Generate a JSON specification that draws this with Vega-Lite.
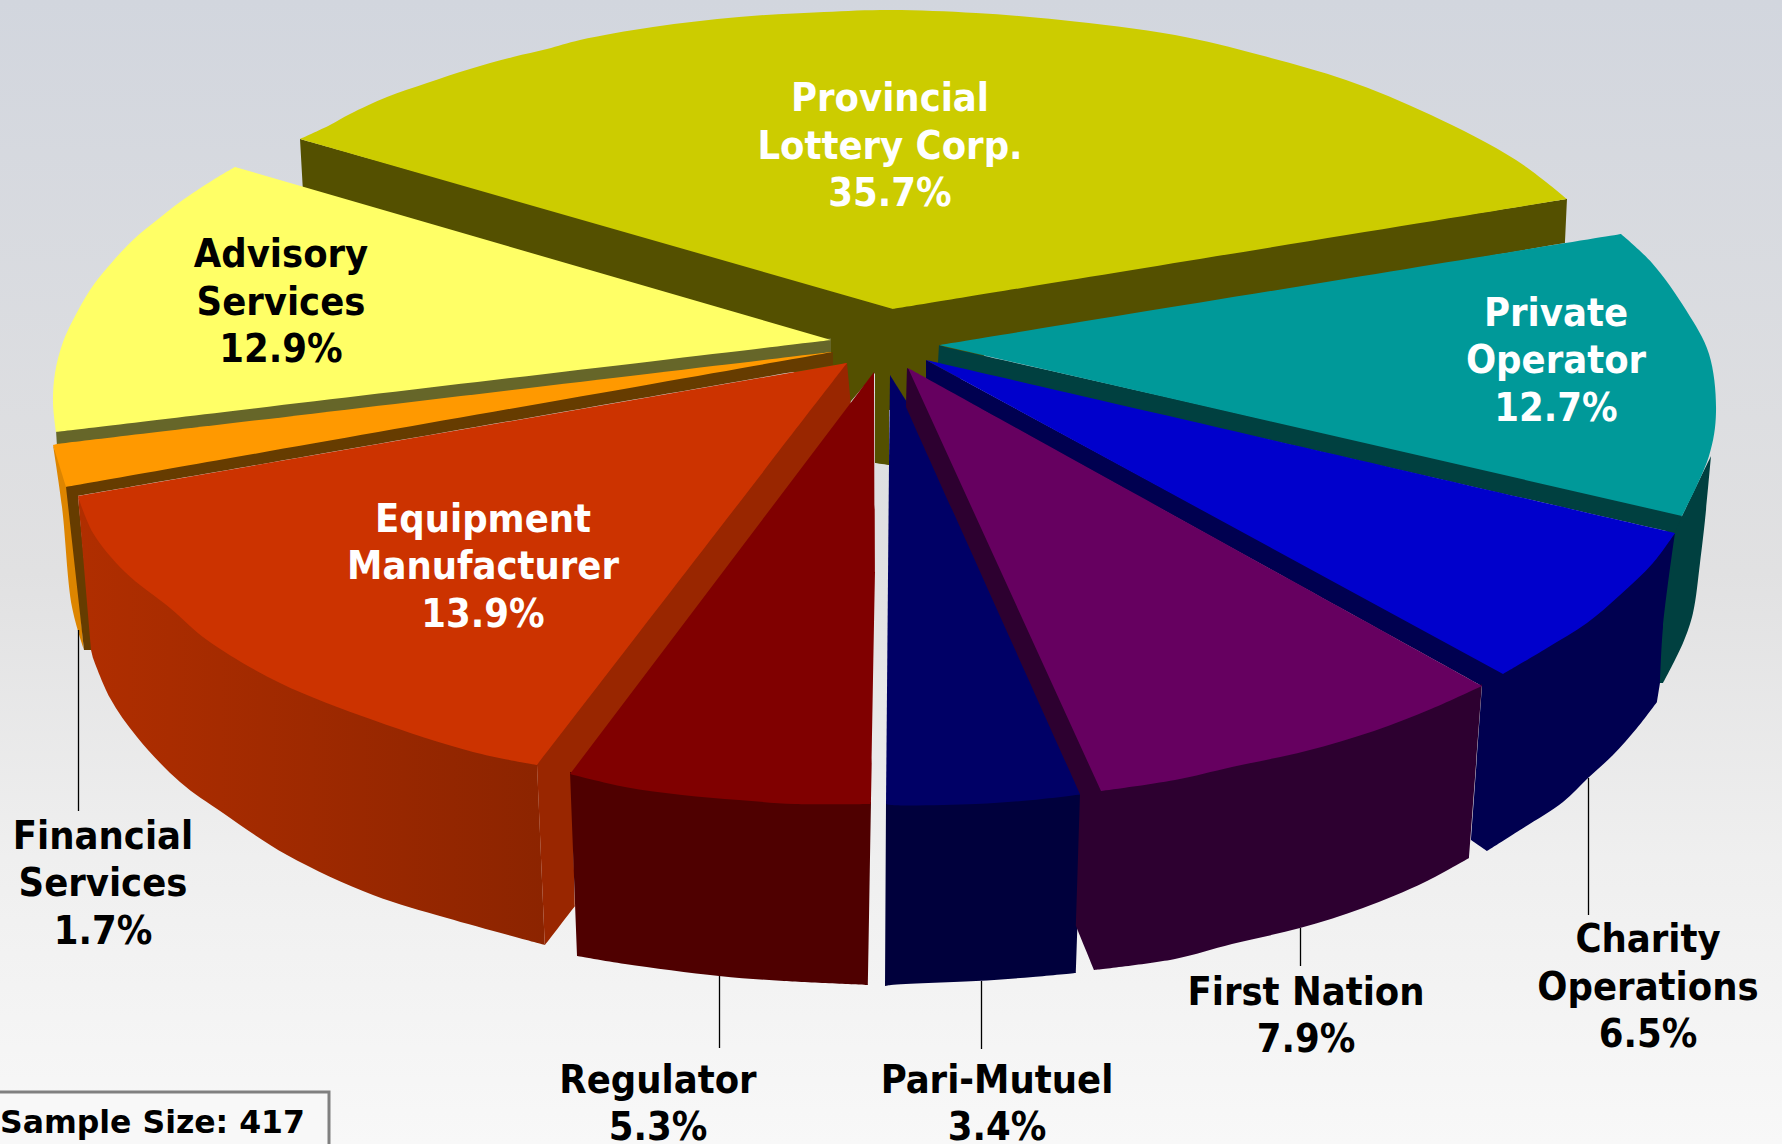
{"$schema":"https://vega.github.io/schema/vega-lite/v6.json","width":1782,"height":1144,"padding":0,"autosize":{"type":"none"},"background":"#f8f8f8","view":{"stroke":null},
"datasets":{
"back":[
{"face":"Provincial side","i":1,"x":300,"y":139},{"face":"Provincial side","i":1.5,"x":300,"y":139},{"face":"Provincial side","i":2,"x":893,"y":305},{"face":"Provincial side","i":2.5,"x":893,"y":305},{"face":"Provincial side","i":3,"x":1567,"y":199},{"face":"Provincial side","i":3.5,"x":1567,"y":199},{"face":"Provincial side","i":4,"x":1565,"y":243},{"face":"Provincial side","i":4.5,"x":1565,"y":243},{"face":"Provincial side","i":5,"x":1000,"y":340},{"face":"Provincial side","i":5.5,"x":1000,"y":340},{"face":"Provincial side","i":6,"x":939,"y":400},{"face":"Provincial side","i":6.5,"x":939,"y":400},{"face":"Provincial side","i":7,"x":906,"y":410},{"face":"Provincial side","i":7.5,"x":906,"y":410},{"face":"Provincial side","i":8,"x":889,"y":410},{"face":"Provincial side","i":8.5,"x":889,"y":410},{"face":"Provincial side","i":9,"x":889,"y":465},{"face":"Provincial side","i":9.5,"x":889,"y":465},{"face":"Provincial side","i":10,"x":875,"y":463},{"face":"Provincial side","i":10.5,"x":875,"y":463},{"face":"Provincial side","i":11,"x":875,"y":373},{"face":"Provincial side","i":11.5,"x":875,"y":373},{"face":"Provincial side","i":12,"x":847,"y":406},{"face":"Provincial side","i":12.5,"x":847,"y":406},{"face":"Provincial side","i":13,"x":700,"y":312},{"face":"Provincial side","i":13.5,"x":700,"y":312},{"face":"Provincial side","i":14,"x":303,"y":192},{"face":"Provincial side","i":14.5,"x":303,"y":192},
{"face":"Provincial top","i":1,"x":300,"y":139},{"face":"Provincial top","i":1.5,"x":300,"y":139},{"face":"Provincial top","i":2,"x":330,"y":125},{"face":"Provincial top","i":3,"x":350,"y":114},{"face":"Provincial top","i":4,"x":387,"y":97},{"face":"Provincial top","i":5,"x":427,"y":83},{"face":"Provincial top","i":6,"x":470,"y":69},{"face":"Provincial top","i":7,"x":513,"y":57},{"face":"Provincial top","i":8,"x":547,"y":49},{"face":"Provincial top","i":8.5,"x":580,"y":40},{"face":"Provincial top","i":9,"x":653,"y":27},{"face":"Provincial top","i":10,"x":739,"y":17},{"face":"Provincial top","i":11,"x":824,"y":12},{"face":"Provincial top","i":12,"x":891,"y":10},{"face":"Provincial top","i":13,"x":976,"y":13},{"face":"Provincial top","i":14,"x":1061,"y":20},{"face":"Provincial top","i":15,"x":1175,"y":35},{"face":"Provincial top","i":16,"x":1260,"y":55},{"face":"Provincial top","i":17,"x":1346,"y":80},{"face":"Provincial top","i":18,"x":1431,"y":115},{"face":"Provincial top","i":19,"x":1516,"y":160},{"face":"Provincial top","i":20,"x":1567,"y":199},{"face":"Provincial top","i":20.5,"x":1567,"y":199},{"face":"Provincial top","i":21,"x":893,"y":309},{"face":"Provincial top","i":21.5,"x":893,"y":309},
{"face":"Advisory side","i":1,"x":56,"y":430},{"face":"Advisory side","i":1.5,"x":56,"y":430},{"face":"Advisory side","i":2,"x":831,"y":338},{"face":"Advisory side","i":2.5,"x":831,"y":338},{"face":"Advisory side","i":3,"x":831,"y":355},{"face":"Advisory side","i":3.5,"x":831,"y":355},{"face":"Advisory side","i":4,"x":57,"y":447},{"face":"Advisory side","i":4.5,"x":57,"y":447},
{"face":"Advisory top","i":1,"x":235,"y":167},{"face":"Advisory top","i":1.5,"x":235,"y":167},{"face":"Advisory top","i":2,"x":213,"y":180},{"face":"Advisory top","i":3,"x":180,"y":202},{"face":"Advisory top","i":4,"x":157,"y":220},{"face":"Advisory top","i":5,"x":133,"y":240},{"face":"Advisory top","i":6,"x":107,"y":268},{"face":"Advisory top","i":7,"x":90,"y":290},{"face":"Advisory top","i":8,"x":73,"y":320},{"face":"Advisory top","i":9,"x":63,"y":342},{"face":"Advisory top","i":10,"x":55,"y":373},{"face":"Advisory top","i":11,"x":53,"y":403},{"face":"Advisory top","i":12,"x":56,"y":432},{"face":"Advisory top","i":12.5,"x":56,"y":432},{"face":"Advisory top","i":13,"x":831,"y":340},{"face":"Advisory top","i":13.5,"x":831,"y":340},
{"face":"Financial outer","i":1,"x":53,"y":445},{"face":"Financial outer","i":1.5,"x":53,"y":445},{"face":"Financial outer","i":2,"x":70,"y":487},{"face":"Financial outer","i":2.5,"x":70,"y":487},{"face":"Financial outer","i":3,"x":84,"y":650},{"face":"Financial outer","i":3.5,"x":84,"y":650},{"face":"Financial outer","i":4,"x":72,"y":607},{"face":"Financial outer","i":5,"x":62,"y":507},{"face":"Financial outer","i":6,"x":53,"y":445},{"face":"Financial outer","i":6.5,"x":53,"y":445},
{"face":"Financial top","i":1,"x":53,"y":445},{"face":"Financial top","i":1.5,"x":53,"y":445},{"face":"Financial top","i":2,"x":57,"y":444},{"face":"Financial top","i":2.5,"x":57,"y":444},{"face":"Financial top","i":3,"x":831,"y":352},{"face":"Financial top","i":3.5,"x":831,"y":352},{"face":"Financial top","i":4,"x":833,"y":356},{"face":"Financial top","i":4.5,"x":833,"y":356},{"face":"Financial top","i":5,"x":70,"y":490},{"face":"Financial top","i":5.5,"x":70,"y":490},{"face":"Financial top","i":6,"x":66,"y":487},{"face":"Financial top","i":6.5,"x":66,"y":487},
{"face":"Financial cut","i":1,"x":66,"y":487},{"face":"Financial cut","i":1.5,"x":66,"y":487},{"face":"Financial cut","i":2,"x":833,"y":352},{"face":"Financial cut","i":2.5,"x":833,"y":352},{"face":"Financial cut","i":3,"x":833,"y":365},{"face":"Financial cut","i":3.5,"x":833,"y":365},{"face":"Financial cut","i":4,"x":78,"y":496},{"face":"Financial cut","i":4.5,"x":78,"y":496},{"face":"Financial cut","i":5,"x":93,"y":650},{"face":"Financial cut","i":5.5,"x":93,"y":650},{"face":"Financial cut","i":6,"x":84,"y":650},{"face":"Financial cut","i":6.5,"x":84,"y":650}
],
"equipmentOuter":[
{"i":1,"x":78,"y":496},{"i":1.5,"x":78,"y":496},{"i":2,"x":96,"y":530},{"i":3,"x":128,"y":569},{"i":4,"x":173,"y":605},{"i":5,"x":210,"y":637},{"i":6,"x":283,"y":680},{"i":7,"x":375,"y":717},{"i":8,"x":474,"y":749},{"i":9,"x":537,"y":763},{"i":9.5,"x":537,"y":763},{"i":10,"x":545,"y":945},{"i":10.5,"x":545,"y":945},{"i":11,"x":447,"y":918},{"i":12,"x":373,"y":895},{"i":13,"x":287,"y":855},{"i":14,"x":223,"y":813},{"i":15,"x":180,"y":782},{"i":16,"x":137,"y":737},{"i":17,"x":110,"y":698},{"i":18,"x":93,"y":658},{"i":18.5,"x":93,"y":658},{"i":19,"x":91,"y":650},{"i":19.5,"x":91,"y":650}
],
"front":[
{"face":"Equipment cut","i":1,"x":844,"y":363},{"face":"Equipment cut","i":1.5,"x":844,"y":363},{"face":"Equipment cut","i":2,"x":534,"y":765},{"face":"Equipment cut","i":2.5,"x":534,"y":765},{"face":"Equipment cut","i":2.7,"x":537,"y":765},{"face":"Equipment cut","i":2.8,"x":537,"y":765},{"face":"Equipment cut","i":3,"x":545,"y":945},{"face":"Equipment cut","i":3.5,"x":545,"y":945},{"face":"Equipment cut","i":4,"x":575,"y":906},{"face":"Equipment cut","i":4.5,"x":575,"y":906},{"face":"Equipment cut","i":5,"x":572,"y":775},{"face":"Equipment cut","i":5.5,"x":572,"y":775},{"face":"Equipment cut","i":6,"x":851,"y":405},{"face":"Equipment cut","i":6.5,"x":851,"y":405},{"face":"Equipment cut","i":7,"x":847,"y":363},{"face":"Equipment cut","i":7.5,"x":847,"y":363},
{"face":"Equipment top","i":1,"x":78,"y":496},{"face":"Equipment top","i":1.5,"x":78,"y":496},{"face":"Equipment top","i":2,"x":93,"y":533},{"face":"Equipment top","i":3,"x":125,"y":572},{"face":"Equipment top","i":4,"x":170,"y":608},{"face":"Equipment top","i":5,"x":207,"y":640},{"face":"Equipment top","i":6,"x":280,"y":683},{"face":"Equipment top","i":7,"x":373,"y":720},{"face":"Equipment top","i":8,"x":473,"y":752},{"face":"Equipment top","i":9,"x":537,"y":765},{"face":"Equipment top","i":9.5,"x":537,"y":765},{"face":"Equipment top","i":10,"x":847,"y":363},{"face":"Equipment top","i":10.5,"x":847,"y":363},
{"face":"Regulator side","i":1,"x":570,"y":772},{"face":"Regulator side","i":1.5,"x":570,"y":772},{"face":"Regulator side","i":2,"x":625,"y":785},{"face":"Regulator side","i":3,"x":682,"y":793},{"face":"Regulator side","i":4,"x":739,"y":798},{"face":"Regulator side","i":5,"x":795,"y":802},{"face":"Regulator side","i":6,"x":871,"y":802},{"face":"Regulator side","i":6.5,"x":871,"y":802},{"face":"Regulator side","i":7,"x":868,"y":985},{"face":"Regulator side","i":7.5,"x":868,"y":985},{"face":"Regulator side","i":8,"x":784,"y":981},{"face":"Regulator side","i":9,"x":719,"y":976},{"face":"Regulator side","i":10,"x":625,"y":964},{"face":"Regulator side","i":11,"x":577,"y":956},{"face":"Regulator side","i":11.5,"x":577,"y":956},
{"face":"Regulator top","i":1,"x":874,"y":372},{"face":"Regulator top","i":1.5,"x":874,"y":372},{"face":"Regulator top","i":2,"x":875,"y":572},{"face":"Regulator top","i":2.5,"x":875,"y":572},{"face":"Regulator top","i":3,"x":871,"y":804},{"face":"Regulator top","i":3.5,"x":871,"y":804},{"face":"Regulator top","i":4,"x":795,"y":804},{"face":"Regulator top","i":5,"x":739,"y":800},{"face":"Regulator top","i":6,"x":682,"y":795},{"face":"Regulator top","i":7,"x":625,"y":787},{"face":"Regulator top","i":8,"x":570,"y":774},{"face":"Regulator top","i":8.5,"x":570,"y":774},
{"face":"Private outer","i":1,"x":1682,"y":516},{"face":"Private outer","i":1.5,"x":1682,"y":516},{"face":"Private outer","i":2,"x":1711,"y":456},{"face":"Private outer","i":2.5,"x":1711,"y":456},{"face":"Private outer","i":3,"x":1705,"y":520},{"face":"Private outer","i":4,"x":1700,"y":563},{"face":"Private outer","i":5,"x":1693,"y":613},{"face":"Private outer","i":6,"x":1683,"y":643},{"face":"Private outer","i":7,"x":1663,"y":683},{"face":"Private outer","i":7.5,"x":1663,"y":683},{"face":"Private outer","i":8,"x":1655,"y":683},{"face":"Private outer","i":8.5,"x":1655,"y":683},{"face":"Private outer","i":9,"x":1665,"y":533},{"face":"Private outer","i":9.5,"x":1665,"y":533},
{"face":"Private cut","i":1,"x":945,"y":347},{"face":"Private cut","i":1.5,"x":945,"y":347},{"face":"Private cut","i":2,"x":1680,"y":513},{"face":"Private cut","i":2.5,"x":1680,"y":513},{"face":"Private cut","i":3,"x":1682,"y":516},{"face":"Private cut","i":3.5,"x":1682,"y":516},{"face":"Private cut","i":4,"x":1675,"y":533},{"face":"Private cut","i":4.5,"x":1675,"y":533},{"face":"Private cut","i":5,"x":938,"y":364},{"face":"Private cut","i":5.5,"x":938,"y":364},{"face":"Private cut","i":6,"x":939,"y":345},{"face":"Private cut","i":6.5,"x":939,"y":345},
{"face":"Private top","i":1,"x":939,"y":345},{"face":"Private top","i":1.5,"x":939,"y":345},{"face":"Private top","i":2,"x":1621,"y":234},{"face":"Private top","i":2.5,"x":1621,"y":234},{"face":"Private top","i":3,"x":1652,"y":263},{"face":"Private top","i":4,"x":1686,"y":310},{"face":"Private top","i":5,"x":1709,"y":354},{"face":"Private top","i":6,"x":1716,"y":412},{"face":"Private top","i":7,"x":1709,"y":456},{"face":"Private top","i":8,"x":1682,"y":516},{"face":"Private top","i":8.5,"x":1682,"y":516},
{"face":"Charity side","i":1,"x":1503,"y":672},{"face":"Charity side","i":1.5,"x":1503,"y":672},{"face":"Charity side","i":2,"x":1547,"y":646},{"face":"Charity side","i":3,"x":1587,"y":621},{"face":"Charity side","i":4,"x":1620,"y":593},{"face":"Charity side","i":5,"x":1653,"y":561},{"face":"Charity side","i":6,"x":1675,"y":533},{"face":"Charity side","i":6.5,"x":1675,"y":533},{"face":"Charity side","i":7,"x":1663,"y":627},{"face":"Charity side","i":8,"x":1660,"y":683},{"face":"Charity side","i":8.5,"x":1660,"y":683},{"face":"Charity side","i":9,"x":1657,"y":702},{"face":"Charity side","i":9.5,"x":1657,"y":702},{"face":"Charity side","i":10,"x":1637,"y":728},{"face":"Charity side","i":11,"x":1613,"y":755},{"face":"Charity side","i":12,"x":1588,"y":778},{"face":"Charity side","i":13,"x":1563,"y":802},{"face":"Charity side","i":14,"x":1520,"y":830},{"face":"Charity side","i":15,"x":1487,"y":851},{"face":"Charity side","i":15.5,"x":1487,"y":851},{"face":"Charity side","i":16,"x":1471,"y":840},{"face":"Charity side","i":16.5,"x":1471,"y":840},{"face":"Charity side","i":17,"x":1482,"y":686},{"face":"Charity side","i":17.5,"x":1482,"y":686},{"face":"Charity side","i":18,"x":926,"y":379},{"face":"Charity side","i":18.5,"x":926,"y":379},{"face":"Charity side","i":19,"x":926,"y":360},{"face":"Charity side","i":19.5,"x":926,"y":360},
{"face":"Charity top","i":1,"x":926,"y":360},{"face":"Charity top","i":1.5,"x":926,"y":360},{"face":"Charity top","i":2,"x":1675,"y":533},{"face":"Charity top","i":2.5,"x":1675,"y":533},{"face":"Charity top","i":3,"x":1653,"y":563},{"face":"Charity top","i":4,"x":1620,"y":595},{"face":"Charity top","i":5,"x":1587,"y":623},{"face":"Charity top","i":6,"x":1547,"y":648},{"face":"Charity top","i":7,"x":1503,"y":674},{"face":"Charity top","i":7.5,"x":1503,"y":674},
{"face":"Pari side","i":1,"x":886,"y":802},{"face":"Pari side","i":1.5,"x":886,"y":802},{"face":"Pari side","i":2,"x":976,"y":802},{"face":"Pari side","i":3,"x":1033,"y":798},{"face":"Pari side","i":4,"x":1082,"y":792},{"face":"Pari side","i":4.5,"x":1082,"y":792},{"face":"Pari side","i":5,"x":1076,"y":973},{"face":"Pari side","i":5.5,"x":1076,"y":973},{"face":"Pari side","i":6,"x":1033,"y":977},{"face":"Pari side","i":7,"x":976,"y":981},{"face":"Pari side","i":8,"x":891,"y":985},{"face":"Pari side","i":9,"x":885,"y":986},{"face":"Pari side","i":9.5,"x":885,"y":986},
{"face":"Pari top","i":1,"x":890,"y":375},{"face":"Pari top","i":1.5,"x":890,"y":375},{"face":"Pari top","i":2,"x":910,"y":407},{"face":"Pari top","i":2.5,"x":910,"y":407},{"face":"Pari top","i":3,"x":1084,"y":794},{"face":"Pari top","i":3.5,"x":1084,"y":794},{"face":"Pari top","i":4,"x":1033,"y":800},{"face":"Pari top","i":5,"x":976,"y":804},{"face":"Pari top","i":6,"x":891,"y":805},{"face":"Pari top","i":7,"x":886,"y":804},{"face":"Pari top","i":7.5,"x":886,"y":804},{"face":"Pari top","i":8,"x":889,"y":463},{"face":"Pari top","i":8.5,"x":889,"y":463},
{"face":"First Nation side","i":1,"x":912,"y":371},{"face":"First Nation side","i":1.5,"x":912,"y":371},{"face":"First Nation side","i":2,"x":1106,"y":788},{"face":"First Nation side","i":2.5,"x":1106,"y":788},{"face":"First Nation side","i":3,"x":1175,"y":778},{"face":"First Nation side","i":4,"x":1232,"y":765},{"face":"First Nation side","i":5,"x":1306,"y":749},{"face":"First Nation side","i":6,"x":1374,"y":729},{"face":"First Nation side","i":7,"x":1431,"y":707},{"face":"First Nation side","i":8,"x":1482,"y":684},{"face":"First Nation side","i":8.5,"x":1482,"y":684},{"face":"First Nation side","i":9,"x":1469,"y":858},{"face":"First Nation side","i":9.5,"x":1469,"y":858},{"face":"First Nation side","i":10,"x":1425,"y":882},{"face":"First Nation side","i":11,"x":1363,"y":908},{"face":"First Nation side","i":12,"x":1300,"y":928},{"face":"First Nation side","i":13,"x":1232,"y":944},{"face":"First Nation side","i":14,"x":1175,"y":959},{"face":"First Nation side","i":15,"x":1094,"y":970},{"face":"First Nation side","i":15.5,"x":1094,"y":970},{"face":"First Nation side","i":16,"x":1076,"y":926},{"face":"First Nation side","i":16.5,"x":1076,"y":926},{"face":"First Nation side","i":17,"x":1080,"y":794},{"face":"First Nation side","i":17.5,"x":1080,"y":794},{"face":"First Nation side","i":18,"x":906,"y":407},{"face":"First Nation side","i":18.5,"x":906,"y":407},{"face":"First Nation side","i":19,"x":907,"y":368},{"face":"First Nation side","i":19.5,"x":907,"y":368},
{"face":"First Nation top","i":1,"x":908,"y":368},{"face":"First Nation top","i":1.5,"x":908,"y":368},{"face":"First Nation top","i":2,"x":1482,"y":686},{"face":"First Nation top","i":2.5,"x":1482,"y":686},{"face":"First Nation top","i":3,"x":1431,"y":709},{"face":"First Nation top","i":4,"x":1374,"y":731},{"face":"First Nation top","i":5,"x":1306,"y":751},{"face":"First Nation top","i":6,"x":1232,"y":767},{"face":"First Nation top","i":7,"x":1175,"y":780},{"face":"First Nation top","i":8,"x":1101,"y":791},{"face":"First Nation top","i":8.5,"x":1101,"y":791}
],
"leaders":[
{"slice":"Financial Services","x":78.5,"y":630,"y2":811},{"slice":"Regulator","x":719.5,"y":976,"y2":1048},{"slice":"Pari-Mutuel","x":981.5,"y":981,"y2":1049},{"slice":"First Nation","x":1300.5,"y":928,"y2":966},{"slice":"Charity Operations","x":1588.5,"y":778,"y2":915}
],
"labels":[
{"label":"Provincial\nLottery Corp.\n35.7%","share":35.7,"x":890,"y":99,"tone":"light"},
{"label":"Advisory\nServices\n12.9%","share":12.9,"x":281,"y":255,"tone":"dark"},
{"label":"Private\nOperator\n12.7%","share":12.7,"x":1556,"y":313.5,"tone":"light"},
{"label":"Equipment\nManufacturer\n13.9%","share":13.9,"x":483,"y":519.5,"tone":"light"},
{"label":"Financial\nServices\n1.7%","share":1.7,"x":103,"y":836.5,"tone":"dark"},
{"label":"Regulator\n5.3%","share":5.3,"x":658,"y":1080.5,"tone":"dark"},
{"label":"Pari-Mutuel\n3.4%","share":3.4,"x":997,"y":1080.5,"tone":"dark"},
{"label":"First Nation\n7.9%","share":7.9,"x":1306,"y":992.5,"tone":"dark"},
{"label":"Charity\nOperations\n6.5%","share":6.5,"x":1648,"y":940,"tone":"dark"}
],
"note":[{"label":"Sample Size: 417","x":0,"y":1124,"x1":-10,"x2":329,"y1":1092,"y2":1160}]
},
"layer":[
{"data":{"values":[{"from":0,"to":1782,"top":0,"bottom":1144}]},"mark":{"type":"rect","fill":{"x1":0,"y1":0,"x2":0,"y2":1,"gradient":"linear","stops":[{"offset":0,"color":"#d2d6de"},{"offset":0.5,"color":"#e1e1e2"},{"offset":0.75,"color":"#efefef"},{"offset":1,"color":"#f8f8f8"}]}},
"encoding":{"x":{"field":"from","type":"quantitative","scale":{"domain":[0,1782]},"axis":null},"x2":{"field":"to"},"y":{"field":"top","type":"quantitative","scale":{"domain":[1144,0]},"axis":null},"y2":{"field":"bottom"}}},
{"data":{"name":"back"},"mark":{"type":"line","strokeWidth":0,"interpolate":"catmull-rom"},
"encoding":{"x":{"field":"x","type":"quantitative","scale":{"domain":[0,1782]},"axis":null},"y":{"field":"y","type":"quantitative","scale":{"domain":[1144,0]},"axis":null},"order":{"field":"i","type":"quantitative"},
"fill":{"field":"face","type":"nominal","legend":null,"scale":{"domain":["Provincial side","Provincial top","Advisory side","Advisory top","Financial outer","Financial top","Financial cut","Equipment top","Equipment cut","Regulator side","Regulator top","Private outer","Private cut","Private top","Charity side","Charity top","Pari side","Pari top","First Nation side","First Nation top"],"range":["#545000","#cccc00","#666629","#ffff66","#dd8500","#ff9900","#663c00","#cc3300","#992600","#4f0000","#800000","#004040","#004040","#009999","#000050","#0000cc","#00003c","#000066","#2d0030","#660060"]}}}},
{"data":{"name":"equipmentOuter"},"mark":{"type":"line","strokeWidth":0,"interpolate":"catmull-rom","fill":{"x1":0,"y1":0,"x2":1,"y2":0,"gradient":"linear","stops":[{"offset":0,"color":"#b02e00"},{"offset":1,"color":"#8c2400"}]}},
"encoding":{"x":{"field":"x","type":"quantitative","scale":{"domain":[0,1782]},"axis":null},"y":{"field":"y","type":"quantitative","scale":{"domain":[1144,0]},"axis":null},"order":{"field":"i","type":"quantitative"}}},
{"data":{"name":"front"},"mark":{"type":"line","strokeWidth":0,"interpolate":"catmull-rom"},
"encoding":{"x":{"field":"x","type":"quantitative","scale":{"domain":[0,1782]},"axis":null},"y":{"field":"y","type":"quantitative","scale":{"domain":[1144,0]},"axis":null},"order":{"field":"i","type":"quantitative"},
"fill":{"field":"face","type":"nominal","legend":null,"scale":{"domain":["Provincial side","Provincial top","Advisory side","Advisory top","Financial outer","Financial top","Financial cut","Equipment top","Equipment cut","Regulator side","Regulator top","Private outer","Private cut","Private top","Charity side","Charity top","Pari side","Pari top","First Nation side","First Nation top"],"range":["#545000","#cccc00","#666629","#ffff66","#dd8500","#ff9900","#663c00","#cc3300","#992600","#4f0000","#800000","#004040","#004040","#009999","#000050","#0000cc","#00003c","#000066","#2d0030","#660060"]}}}},
{"data":{"name":"leaders"},"mark":{"type":"rule","color":"#000000","strokeWidth":1.3},
"encoding":{"x":{"field":"x","type":"quantitative","scale":{"domain":[0,1782]},"axis":null},"y":{"field":"y","type":"quantitative","scale":{"domain":[1144,0]},"axis":null},"y2":{"field":"y2"}}},
{"data":{"name":"labels"},"mark":{"type":"text","font":"DejaVu Sans Condensed","fontWeight":"bold","fontSize":39.5,"lineHeight":47.5,"lineBreak":"\n","align":"center","baseline":"middle"},
"encoding":{"x":{"field":"x","type":"quantitative","scale":{"domain":[0,1782]},"axis":null},"y":{"field":"y","type":"quantitative","scale":{"domain":[1144,0]},"axis":null},"text":{"field":"label"},"color":{"field":"tone","type":"nominal","legend":null,"scale":{"domain":["light","dark"],"range":["#ffffff","#000000"]}}}},
{"data":{"name":"note"},"mark":{"type":"rect","clip":true,"fill":"#f8f8f8","stroke":"#808080","strokeWidth":3},
"encoding":{"x":{"field":"x1","type":"quantitative","scale":{"domain":[0,1782]},"axis":null},"x2":{"field":"x2"},"y":{"field":"y1","type":"quantitative","scale":{"domain":[1144,0]},"axis":null},"y2":{"field":"y2"}}},
{"data":{"name":"note"},"mark":{"type":"text","font":"DejaVu Sans","fontWeight":"bold","fontSize":31.5,"align":"left","baseline":"middle","color":"#000000"},
"encoding":{"x":{"field":"x","type":"quantitative","scale":{"domain":[0,1782]},"axis":null},"y":{"field":"y","type":"quantitative","scale":{"domain":[1144,0]},"axis":null},"text":{"field":"label"}}}
]}
